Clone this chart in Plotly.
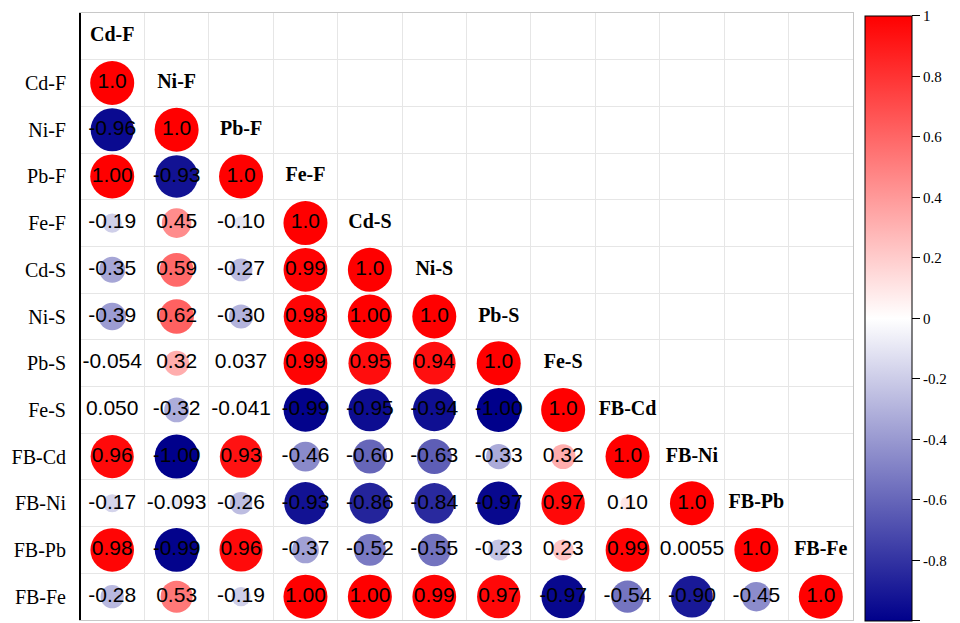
import numpy as np
import plotly.graph_objects as go

variables = ["Cd-F", "Ni-F", "Pb-F", "Fe-F", "Cd-S", "Ni-S", "Pb-S", "Fe-S",
             "FB-Cd", "FB-Ni", "FB-Pb", "FB-Fe"]

# lower-triangle correlation values (as printed)
row_cd_f = ["1.0"]
row_ni_f = ["-0.96", "1.0"]
row_pb_f = ["1.00", "-0.93", "1.0"]
row_fe_f = ["-0.19", "0.45", "-0.10", "1.0"]
row_cd_s = ["-0.35", "0.59", "-0.27", "0.99", "1.0"]
row_ni_s = ["-0.39", "0.62", "-0.30", "0.98", "1.00", "1.0"]
row_pb_s = ["-0.054", "0.32", "0.037", "0.99", "0.95", "0.94", "1.0"]
row_fe_s = ["0.050", "-0.32", "-0.041", "-0.99", "-0.95", "-0.94", "-1.00", "1.0"]
row_fb_cd = ["0.96", "-1.00", "0.93", "-0.46", "-0.60", "-0.63", "-0.33", "0.32", "1.0"]
row_fb_ni = ["-0.17", "-0.093", "-0.26", "-0.93", "-0.86", "-0.84", "-0.97", "0.97", "0.10", "1.0"]
row_fb_pb = ["0.98", "-0.99", "0.96", "-0.37", "-0.52", "-0.55", "-0.23", "0.23", "0.99", "0.0055", "1.0"]
row_fb_fe = ["-0.28", "0.53", "-0.19", "1.00", "1.00", "0.99", "0.97", "-0.97", "-0.54", "-0.90", "-0.45", "1.0"]

rows = [row_cd_f, row_ni_f, row_pb_f, row_fe_f, row_cd_s, row_ni_s, row_pb_s,
        row_fe_s, row_fb_cd, row_fb_ni, row_fb_pb, row_fb_fe]

cbar_ticks = [1, 0.8, 0.6, 0.4, 0.2, 0, -0.2, -0.4, -0.6, -0.8, -1]

xs, ys, vals, txt = [], [], [], []
for i, row in enumerate(rows):
    for j, s in enumerate(row):
        xs.append(j)
        ys.append(i + 1)
        vals.append(float(s))
        txt.append(s)
vals = np.array(vals)
sizes = np.sqrt(np.abs(vals)) * 44

colorscale = [[0, "#00008B"], [0.5, "#FFFFFF"], [1, "#FF0000"]]

# keep end ticks just inside the bar so they are drawn
cbar_pos = [max(min(t, 0.9995), -0.9995) for t in cbar_ticks]

fig = go.Figure()
fig.add_trace(go.Scatter(
    x=xs, y=ys, mode="markers+text",
    text=txt, textposition="middle center",
    textfont=dict(family="Liberation Sans, Arial", size=21, color="black"),
    marker=dict(size=sizes, color=vals, cmin=-1, cmax=1, colorscale=colorscale,
                line=dict(width=0), opacity=1,
                colorbar=dict(
                    x=1.0155, xanchor="left", y=0.497, yanchor="middle",
                    len=0.997, lenmode="fraction", thickness=47,
                    xpad=0, ypad=0,
                    outlinecolor="black", outlinewidth=1,
                    tickvals=cbar_pos, ticktext=[f"{t:g}" for t in cbar_ticks],
                    ticks="outside", ticklen=8, tickcolor="black",
                    tickfont=dict(family="Liberation Serif, Times New Roman", size=15, color="black"),
                )),
    hoverinfo="skip", showlegend=False,
))

# bold column labels above diagonal
fig.add_trace(go.Scatter(
    x=list(range(len(variables))), y=list(range(len(variables))),
    mode="text", text=[f"<b>{v}</b>" for v in variables],
    textfont=dict(family="Liberation Serif, Times New Roman", size=20, color="black"),
    hoverinfo="skip", showlegend=False,
))

fig.update_xaxes(range=[-0.5, 11.5], showticklabels=False, showgrid=False, zeroline=False,
                 minor=dict(tick0=0.5, dtick=1, showgrid=True, gridcolor="#e6e6e6", gridwidth=1),
                 showline=True, linecolor="#c8c8c8", linewidth=1, mirror=True)
fig.update_yaxes(range=[12.5, -0.5], tickvals=list(range(1, 13)), ticktext=variables,
                 tickfont=dict(family="Liberation Serif, Times New Roman", size=20, color="black"),
                 showgrid=False, zeroline=False, ticks="", ticklabelstandoff=9,
                 minor=dict(tick0=0.5, dtick=1, showgrid=True, gridcolor="#e6e6e6", gridwidth=1),
                 showline=True, linecolor="#c8c8c8", linewidth=1, mirror=True)

fig.add_shape(type="line", xref="paper", yref="paper", x0=0, x1=0, y0=0, y1=1,
              line=dict(color="black", width=2))

# page body adds an 8px offset; margins compensate for it
fig.update_layout(
    width=952, height=615,
    margin=dict(l=72, r=107, t=5, b=3, autoexpand=False),
    paper_bgcolor="white", plot_bgcolor="white",
)

fig.write_html("out.html")
